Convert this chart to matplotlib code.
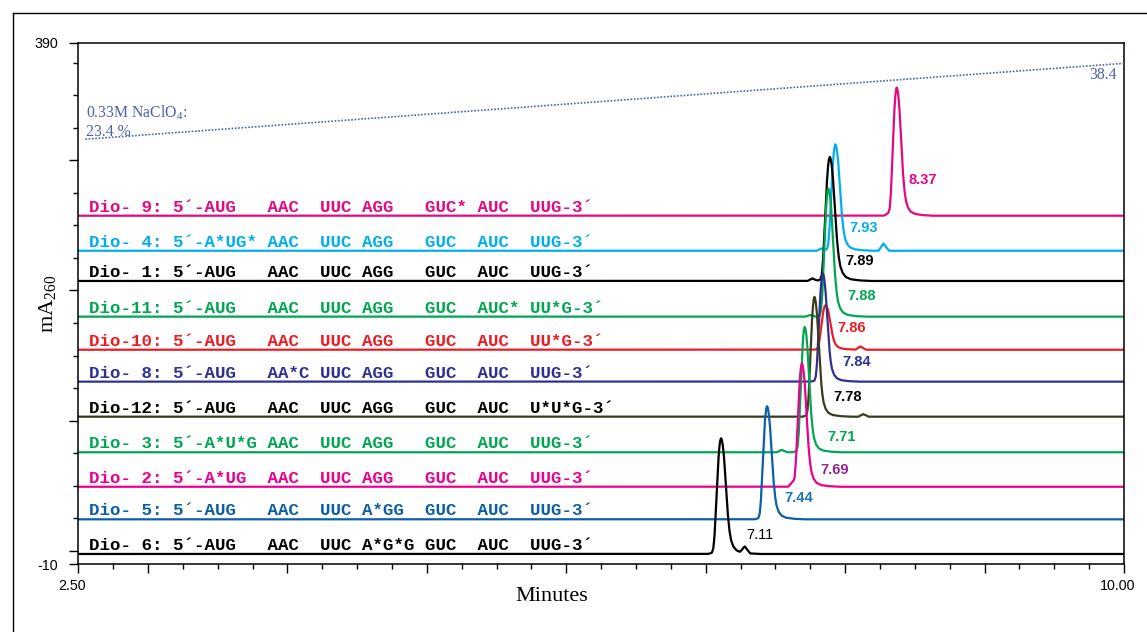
import numpy as np
import matplotlib
matplotlib.use("Agg")
import matplotlib.pyplot as plt
from matplotlib.lines import Line2D
from matplotlib.transforms import ScaledTranslation, blended_transform_factory

plt.rcParams["font.family"] = "Liberation Sans"
plt.rcParams["mathtext.fontset"] = "custom"
plt.rcParams["mathtext.rm"] = "Liberation Serif"
plt.rcParams["mathtext.it"] = "Liberation Serif:italic"

# samples, top trace first
names = ["Dio- 9", "Dio- 4", "Dio- 1", "Dio-11", "Dio-10", "Dio- 8",
         "Dio-12", "Dio- 3", "Dio- 2", "Dio- 5", "Dio- 6"]
sequences = [
    "5´-AUG   AAC  UUC AGG   GUC* AUC  UUG-3´",
    "5´-A*UG* AAC  UUC AGG   GUC  AUC  UUG-3´",
    "5´-AUG   AAC  UUC AGG   GUC  AUC  UUG-3´",
    "5´-AUG   AAC  UUC AGG   GUC  AUC* UU*G-3´",
    "5´-AUG   AAC  UUC AGG   GUC  AUC  UU*G-3´",
    "5´-AUG   AA*C UUC AGG   GUC  AUC  UUG-3´",
    "5´-AUG   AAC  UUC AGG   GUC  AUC  U*U*G-3´",
    "5´-A*U*G AAC  UUC AGG   GUC  AUC  UUG-3´",
    "5´-A*UG  AAC  UUC AGG   GUC  AUC  UUG-3´",
    "5´-AUG   AAC  UUC A*GG  GUC  AUC  UUG-3´",
    "5´-AUG   AAC  UUC A*G*G GUC  AUC  UUG-3´",
]
retention = [8.37, 7.93, 7.89, 7.88, 7.86, 7.84, 7.78, 7.71, 7.69, 7.44, 7.11]
peak_height = [98.6, 81.7, 95.4, 98.5, 34.3, 83.2, 92.0, 96.4, 94.8, 87.0, 89.0]
baseline = [257.4, 230.5, 207.3, 179.9, 154.5, 130.0, 103.1, 75.8, 49.3, 24.3, -2.3]
peak_width = [1.0, 1.05, 1.15, 1.05, 1.1, 1.0, 1.0, 1.0, 1.05, 1.05, 1.1]
# small side peaks (time, height)
minor_peaks = [
    [(8.31, 1.3)],
    [(7.83, 1.8), (8.275, 5.6)],
    [(7.765, 2.0)],
    [(7.75, 1.3)],
    [(8.11, 2.5)],
    [],
    [(8.13, 2.0)],
    [(7.545, 1.8)],
    [(7.625, 3.3)],
    [],
    [(7.28, 5.0)],
]
trace_color = ["#e5097f", "#00aeef", "#000000", "#00a651", "#ed1c24", "#2e3192",
               "#3a3a1c", "#00a651", "#ec008c", "#0b5ea8", "#000000"]
text_color = ["#e5097f", "#00aeef", "#000000", "#00a651", "#ed1c24", "#2e3192",
              "#000000", "#00a651", "#ec008c", "#0b5ea8", "#000000"]
peak_label_color = ["#e5097f", "#00aeef", "#000000", "#00a651", "#ed1c24", "#2e3192",
                    "#000000", "#00a651", "#92278f", "#1b75bc", "#000000"]
peak_label_pos = [(8.453, 284.7), (8.030, 248.2), (8.004, 222.9), (8.018, 195.8),
                  (7.946, 170.9), (7.979, 145.3), (7.915, 118.0), (7.875, 87.7),
                  (7.825, 62.2), (7.561, 40.4), (7.289, 12.3)]

shape_dt = [-0.085, -0.06, -0.05, -0.042, -0.034, -0.026, -0.018, -0.012, -0.006, 0.0,
            0.006, 0.012, 0.019, 0.027, 0.036, 0.045, 0.055, 0.065, 0.08, 0.1,
            0.13, 0.18, 0.25]
shape_frac = [0.0, 0.01, 0.05, 0.17, 0.37, 0.58, 0.8, 0.91, 0.975, 1.0,
              0.98, 0.93, 0.84, 0.68, 0.5, 0.33, 0.2, 0.12, 0.065, 0.032,
              0.014, 0.005, 0.0]
bump_dt = [-0.035, -0.015, 0.0, 0.015, 0.04]
bump_frac = [0.0, 0.6, 1.0, 0.6, 0.0]

# NaClO4 gradient
gradient_time = [2.55, 10.0]
gradient_pct = [23.4, 38.4]

fig = plt.figure(figsize=(11.47, 6.32), dpi=100)
ax = fig.add_axes([78.3 / 1147, 1 - 564 / 632, (1124 - 78.3) / 1147, (564 - 43) / 632])

t = np.linspace(2.5, 10.0, 4001)
for i in range(len(names)):
    y = np.full_like(t, baseline[i])
    y += peak_height[i] * np.interp((t - retention[i]) / peak_width[i], shape_dt, shape_frac)
    for bt, bh in minor_peaks[i]:
        y += bh * np.interp(t - bt, bump_dt, bump_frac)
    ax.plot(t, y, color=trace_color[i], lw=1.6, solid_joinstyle="round")

    ax.annotate(f"{names[i]}: {sequences[i]}",
                xy=(0, baseline[i]),
                xycoords=blended_transform_factory(ax.transAxes, ax.transData),
                xytext=(8, 2.9), textcoords="offset points",
                ha="left", va="baseline", color=text_color[i],
                family="Liberation Mono", weight="bold", fontsize=12.6)

    lx, ly = peak_label_pos[i]
    ax.text(lx, ly, f"{retention[i]:.2f}", color=peak_label_color[i],
            ha="left", va="center", fontsize=10.5,
            weight="normal" if i == len(names) - 1 else "bold")

ax.set_xlim(2.5, 10.0)
ax.set_ylim(-10, 390)

ax.set_xticks([2.5, 3, 4, 5, 6, 7, 8, 9, 10])
ax.set_xticklabels(["2.50", "", "", "", "", "", "", "", "10.00"])
ax.set_xticks(np.arange(2.75, 10, 0.25), minor=True)
ax.set_yticks([-10, 0, 100, 200, 300, 390])
ax.set_yticklabels(["-10", "", "", "", "", "390"])
ax.set_yticks([25, 50, 75, 125, 150, 175, 225, 250, 275, 325, 350, 375], minor=True)
ax.tick_params(which="major", direction="out", length=6.8, width=1.0, labelsize=10.3)
ax.tick_params(which="minor", direction="out", length=3.3, width=1.0)
ax.tick_params(axis="y", which="major", pad=8)
ax.tick_params(axis="x", which="major", pad=4)
shift = ScaledTranslation(-0.06, 0, fig.dpi_scale_trans)
for lab in ax.get_xticklabels():
    lab.set_transform(lab.get_transform() + shift)
for sp in ax.spines.values():
    sp.set_linewidth(1.1)

ax.set_xlabel("Minutes", family="Liberation Serif", fontsize=16, va="center")
ax.xaxis.set_label_coords(0.453, -0.063)
ax.set_ylabel("mA$_{260}$", family="Liberation Serif", fontsize=16, va="center")
ax.yaxis.set_label_coords(-0.0295, 0.5)

# gradient on its own scale
ax2 = ax.twinx()
ax2.set_ylim(-60.5, 42.41)
ax2.axis("off")
grad_color = "#4d62b0"
ax2.plot(gradient_time, gradient_pct, color=grad_color, lw=1.2, linestyle=(0, (1, 1)))
ax2.annotate(f"{gradient_pct[0]} %", xy=(gradient_time[0], gradient_pct[0]),
             xytext=(0.5, 2.2), textcoords="offset points", ha="left", va="baseline",
             color=grad_color, family="Liberation Serif", fontsize=11.3)
ax2.annotate("0.33M NaClO$_{4}$:", xy=(gradient_time[0], gradient_pct[0]),
             xytext=(0.5, 15.8), textcoords="offset points", ha="left", va="baseline",
             color=grad_color, family="Liberation Serif", fontsize=11.3)
ax2.annotate(f"{gradient_pct[1]}", xy=(gradient_time[1], gradient_pct[1]),
             xytext=(-5, -11.5), textcoords="offset points", ha="right", va="baseline",
             color=grad_color, family="Liberation Serif", fontsize=11.3)

# outer frame (runs off the right and bottom of the picture)
fx, fy = 13 / 1147, 1 - 13 / 632
fig.add_artist(Line2D([fx, fx], [-0.01, fy], color="black", lw=1.0))
fig.add_artist(Line2D([fx, 1.01], [fy, fy], color="black", lw=1.0))

fig.savefig("out.png", dpi=100)
